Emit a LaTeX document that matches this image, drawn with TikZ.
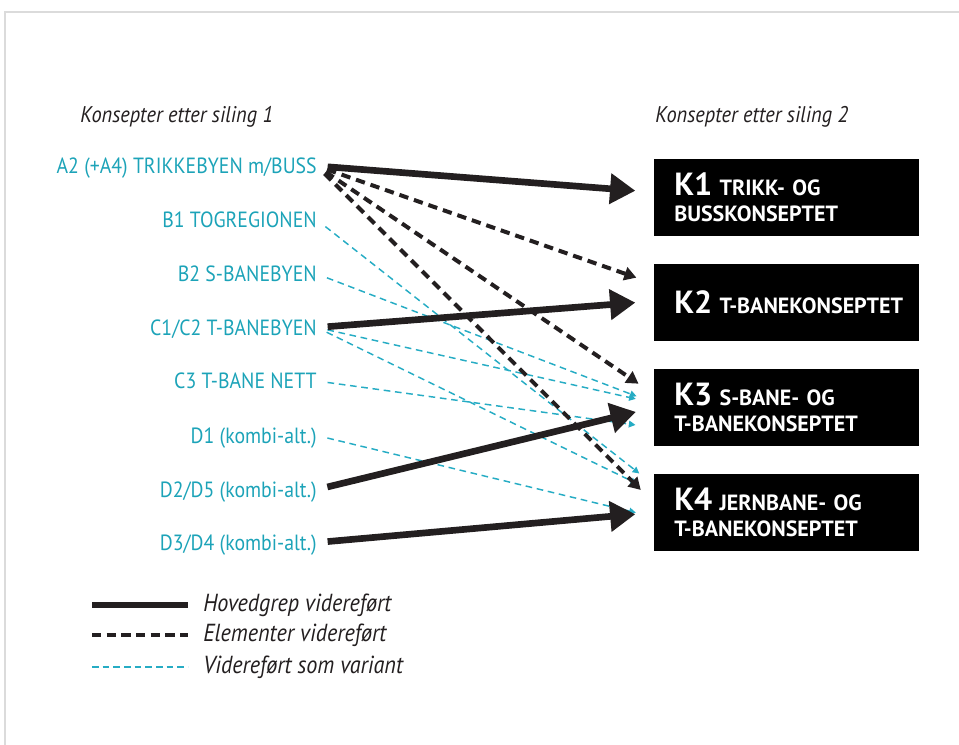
\documentclass[tikz,border=0pt]{standalone}
\usepackage{fontspec}
\setmainfont{PT Sans}[FakeStretch=0.9]
\newfontfamily\boxfont{PT Sans}
\usepackage{tikz}
\usetikzlibrary{arrows.meta,positioning}
\definecolor{konsept}{RGB}{28,163,184}
\definecolor{variantline}{RGB}{38,172,196}
\definecolor{ink}{RGB}{35,31,32}
\tikzset{
  every node/.style={
    font=\fontsize{16.5}{18}\selectfont
  },
  alternative/.style={
    anchor=east,
    text=konsept,
    inner sep=0pt,
    text height=13.5pt,
    text depth=2pt
  },
  heading/.style={
    anchor=west,
    inner sep=0pt,
    text=ink,
    font=\fontsize{17}{19}\selectfont\itshape
  },
  legendtext/.style={
    heading,
    font=\fontsize{18.5}{20}\selectfont\itshape
  },
  concept/.style={
    shape=rectangle,
    anchor=west,
    fill=black,
    text=white,
    font=\boxfont\fontsize{16.5}{19.5}\selectfont\bfseries,
    text width=168.75pt,
    inner xsep=15pt,
    minimum height=57.75pt,
    align=left
  },
  hovedgrep/.style={
    draw=ink,
    line width=5pt,
    -{Triangle[length=19pt,width=22pt]},
    shorten <=8pt,
    shorten >=14pt
  },
  elementer/.style={
    draw=ink,
    line width=3pt,
    dash pattern=on 7pt off 4.5pt,
    -{Triangle[length=9pt,width=10pt]},
    shorten <=8pt,
    shorten >=14pt
  },
  variant/.style={
    draw=variantline,
    line width=1.1pt,
    dash pattern=on 5pt off 3.5pt,
    -{Triangle[length=5pt,width=5pt]},
    shorten <=8pt,
    shorten >=14pt
  }
}
\newcommand{\kbig}[1]{{\fontsize{24}{24}\selectfont #1}}

\begin{document}
\begin{tikzpicture}[x=0.75pt,y=-0.75pt]
  \useasboundingbox (0,0) rectangle (959,745);
  \draw[black!14, line width=1.5pt] (5,959) -- (5,12.5) -- (959,12.5);

  % headings
  \node [heading] (h1) at (80,117) {Konsepter etter siling 1};
  \node [heading] (h2) at (655,117) {Konsepter etter siling 2};

  % concepts after first round
  \node [alternative] (a2) at (317,166) {A2 (+A4) TRIKKEBYEN m/BUSS};
  \node [alternative] (b1) at (317,220) {B1 TOGREGIONEN};
  \node [alternative] (b2) at (317,274) {B2 S-BANEBYEN};
  \node [alternative] (c1) at (317,327.5) {C1/C2 T-BANEBYEN};
  \node [alternative] (c3) at (317,381) {C3 T-BANE NETT};
  \node [alternative] (d1) at (317,435.5) {D1 (kombi-alt.)};
  \node [alternative] (d2) at (317,489.5) {D2/D5 (kombi-alt.)};
  \node [alternative] (d3) at (317,542.5) {D3/D4 (kombi-alt.)};

  % concepts after second round
  \node [concept] (k1) at (654,197.5) {\kbig{K1} TRIKK- OG\\BUSSKONSEPTET};
  \node [concept] (k2) at (654,302.5) {\mbox{\kbig{K2} T-BANEKONSEPTET}};
  \node [concept] (k3) at (654,407.5) {\kbig{K3} S-BANE- OG\\T-BANEKONSEPTET};
  \node [concept] (k4) at (654,512.5) {\kbig{K4} JERNBANE- OG\\T-BANEKONSEPTET};

  % variants
  \draw [variant] (b1.east) -- ([yshift=20.6pt]k4.west);
  \draw [variant] (b2.east) -- ([yshift=3.4pt]k3.west);
  \draw [variant] (c1.east) -- ([yshift=3.4pt]k3.west);
  \draw [variant] (c1.east) -- ([yshift=15.4pt]k4.west);
  \draw [variant] (c3.east) -- ([yshift=-15pt]k3.west);
  \draw [variant] (d1.east) -- ([yshift=-3.4pt]k4.west);

  % elements
  \draw [elementer] (a2.east) -- ([yshift=14pt]k2.west);
  \draw [elementer] (a2.east) -- ([yshift=10pt]k3.west);
  \draw [elementer] (a2.east) -- ([yshift=7pt]k4.west);

  % main ideas
  \draw [hovedgrep] (a2.east) -- ([yshift=4pt]k1.west);
  \draw [hovedgrep] (c1.east) -- ([yshift=1pt]k2.west);
  \draw [hovedgrep] (d2.east) -- (k3.west);
  \draw [hovedgrep] (d3.east) -- (k4.west);

  % legend
  \node [legendtext] (l1) at (203,605) {Hovedgrep videreført};
  \node [legendtext] (l2) at (203,635) {Elementer videreført};
  \node [legendtext] (l3) at (203,667) {Videreført som variant};
  \coordinate (s1) at (92,605);
  \coordinate (s2) at (92,635);
  \coordinate (s3) at (92,667);
  \draw [ink, line width=5pt] (s1) -- (s1 -| 188,0);
  \draw [ink, line width=3pt, dash pattern=on 7pt off 4pt] (s2) -- (s2 -| 188,0);
  \draw [variantline, line width=1.1pt, dash pattern=on 5pt off 3pt] (s3) -- (s3 -| 188,0);
\end{tikzpicture}
\end{document}
